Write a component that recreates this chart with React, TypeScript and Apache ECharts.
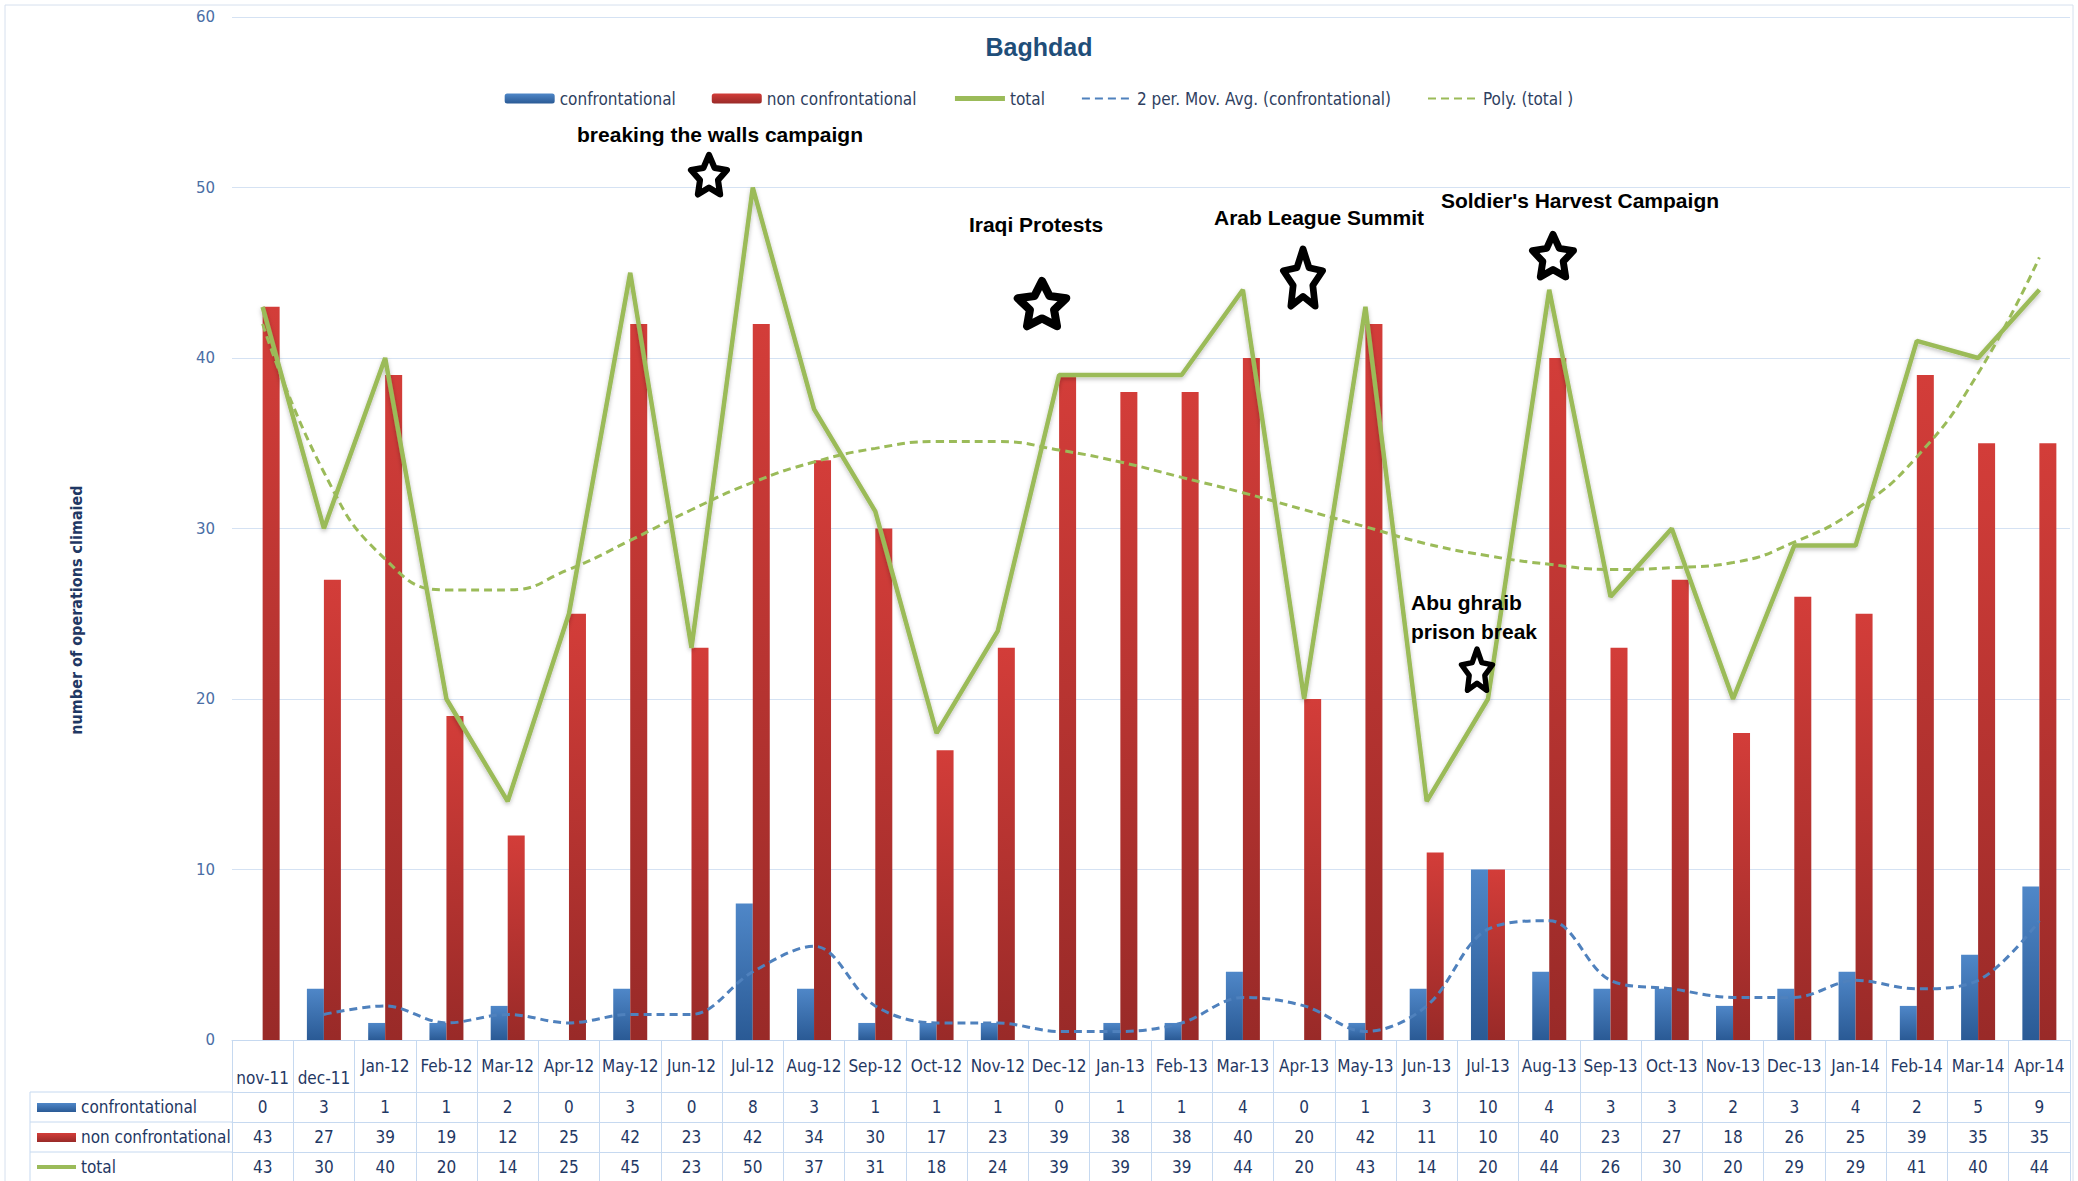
import React, { useEffect, useRef } from "react";
import * as echarts from "echarts";

const categories = [
  "nov-11", "dec-11", "Jan-12", "Feb-12", "Mar-12", "Apr-12", "May-12", "Jun-12", "Jul-12", "Aug-12",
  "Sep-12", "Oct-12", "Nov-12", "Dec-12", "Jan-13", "Feb-13", "Mar-13", "Apr-13", "May-13", "Jun-13",
  "Jul-13", "Aug-13", "Sep-13", "Oct-13", "Nov-13", "Dec-13", "Jan-14", "Feb-14", "Mar-14", "Apr-14",
];
const confrontational = [0, 3, 1, 1, 2, 0, 3, 0, 8, 3, 1, 1, 1, 0, 1, 1, 4, 0, 1, 3, 10, 4, 3, 3, 2, 3, 4, 2, 5, 9];
const nonConfrontational = [43, 27, 39, 19, 12, 25, 42, 23, 42, 34, 30, 17, 23, 39, 38, 38, 40, 20, 42, 11, 10, 40, 23, 27, 18, 26, 25, 39, 35, 35];
const total = [43, 30, 40, 20, 14, 25, 45, 23, 50, 37, 31, 18, 24, 39, 39, 39, 44, 20, 43, 14, 20, 44, 26, 30, 20, 29, 29, 41, 40, 44];
const movAvgConfrontational = [null, 1.5, 2, 1, 1.5, 1, 1.5, 1.5, 4, 5.5, 2, 1, 1, 0.5, 0.5, 1, 2.5, 2, 0.5, 2, 6.5, 7, 3.5, 3, 2.5, 2.5, 3.5, 3, 3.5, 7];
const polyTotal = [42, 33.3, 28.2, 26.4, 26.4, 27.6, 29.3, 31.1, 32.7, 33.9, 34.7, 35.1, 35.1, 34.6, 33.9, 33.0, 32.1, 31.1, 30.1, 29.1, 28.4, 27.9, 27.6, 27.7, 28.0, 29.2, 31.1, 34.2, 39.1, 45.9];
const yTicks = { min: 0, max: 60, interval: 10 };

const seriesNames = {
  conf: "confrontational",
  non: "non confrontational",
  total: "total",
  ma: "2 per. Mov. Avg. (confrontational)",
  poly: "Poly. (total )",
};
const chartTitle = "Baghdad";
const yTitle = "number of operations climaied";

const annotations = [
  { text: "breaking the walls campaign", x: 720, y: 134 },
  { text: "Iraqi Protests", x: 1036, y: 224 },
  { text: "Arab League Summit", x: 1319, y: 217 },
  { text: "Soldier's Harvest Campaign", x: 1580, y: 200 },
];
const stars = [
  { cx: 709, cy: 175, w: 44, h: 50 },
  { cx: 1042, cy: 304, w: 59, h: 58 },
  { cx: 1303, cy: 278, w: 48, h: 70 },
  { cx: 1553, cy: 256, w: 50, h: 54 },
  { cx: 1477, cy: 670, w: 38, h: 51 },
];

const NARROW = '"Liberation Sans Narrow", "DejaVu Sans Condensed", "Arial Narrow", sans-serif';
const TABLE_LINE = "#c6d9f0";
const TABLE_TEXT = "#1f3864";

function starPoints(cx: number, cy: number, w: number, h: number, lw: number) {
  const pts: number[][] = [];
  const rx = w / 2 - lw / 2;
  const ry = h / 2 - lw / 2;
  for (let k = 0; k < 10; k++) {
    const a = -Math.PI / 2 + (k * Math.PI) / 5;
    const f = k % 2 === 0 ? 1 : 0.5;
    pts.push([cx + Math.cos(a) * rx * f, cy + Math.sin(a) * ry * f + ry * 0.08]);
  }
  return pts;
}

export default function App() {
  const ref = useRef<HTMLDivElement>(null);
  useEffect(() => {
    if (!ref.current) return;
    const chart = echarts.init(ref.current, null, { renderer: "svg" });
    const blueGrad = new echarts.graphic.LinearGradient(0, 0, 0, 1, [
      { offset: 0, color: "#4f87c8" },
      { offset: 1, color: "#2a5a95" },
    ]);
    const redGrad = new echarts.graphic.LinearGradient(0, 0, 0, 1, [
      { offset: 0, color: "#d33d39" },
      { offset: 1, color: "#992a28" },
    ]);
    const lowered = new Set([0, 1]);
    const headerData = categories.map((c, i) =>
      lowered.has(i) ? { value: c, textStyle: { padding: [12, 0, 0, 0] } } : c
    );
    const rowAxis = (offset: number, values: number[]) => ({
      type: "category",
      gridIndex: 0,
      position: "bottom",
      offset,
      data: categories,
      boundaryGap: true,
      axisLine: { show: true, lineStyle: { color: TABLE_LINE, width: 1 } },
      axisTick: { show: false },
      splitLine: { show: false },
      axisLabel: {
        interval: 0,
        margin: 6,
        fontSize: 17,
        fontFamily: NARROW,
        color: TABLE_TEXT,
        formatter: (_v: string, idx: number) => String(values[idx]),
      },
    });
    const textBase = {
      fontFamily: NARROW,
      fontSize: 17,
      fill: TABLE_TEXT,
      verticalAlign: "middle",
      align: "left",
    };
    const graphics: any[] = [
      {
        type: "rect",
        shape: { x: 5, y: 5, width: 2068, height: 1190 },
        style: { fill: "none", stroke: "#d6e0ee", lineWidth: 1 },
        silent: true,
      },
      {
        type: "text",
        x: 76,
        y: 610,
        rotation: Math.PI / 2,
        style: {
          text: yTitle,
          fontFamily: NARROW,
          fontSize: 16,
          fontWeight: "bold",
          fill: "#1f3864",
          align: "center",
          verticalAlign: "middle",
        },
      },
      { type: "line", shape: { x1: 30, y1: 1092, x2: 232, y2: 1092 }, style: { stroke: TABLE_LINE, lineWidth: 1 } },
      { type: "line", shape: { x1: 30, y1: 1122, x2: 232, y2: 1122 }, style: { stroke: TABLE_LINE, lineWidth: 1 } },
      { type: "line", shape: { x1: 30, y1: 1152, x2: 232, y2: 1152 }, style: { stroke: TABLE_LINE, lineWidth: 1 } },
      { type: "line", shape: { x1: 30, y1: 1092, x2: 30, y2: 1181 }, style: { stroke: TABLE_LINE, lineWidth: 1 } },
      { type: "rect", shape: { x: 37, y: 1103, width: 39, height: 9 }, style: { fill: blueGrad } },
      { type: "rect", shape: { x: 37, y: 1133, width: 39, height: 9 }, style: { fill: redGrad } },
      { type: "rect", shape: { x: 37, y: 1165, width: 39, height: 4 }, style: { fill: "#9bbb59" } },
      { type: "text", x: 81, y: 1107, style: { ...textBase, text: seriesNames.conf } },
      { type: "text", x: 81, y: 1137, style: { ...textBase, text: seriesNames.non } },
      { type: "text", x: 81, y: 1167, style: { ...textBase, text: seriesNames.total } },
    ];
    annotations.forEach((a) =>
      graphics.push({
        type: "text",
        x: a.x,
        y: a.y,
        z: 100,
        style: {
          text: a.text,
          fontFamily: '"Liberation Sans", Arial, sans-serif',
          fontSize: 21,
          fontWeight: "bold",
          fill: "#000",
          align: "center",
          verticalAlign: "middle",
        },
      })
    );
    graphics.push({
      type: "text",
      x: 1411,
      y: 617,
      z: 100,
      style: {
        text: "Abu ghraib\nprison break",
        fontFamily: '"Liberation Sans", Arial, sans-serif',
        fontSize: 21,
        fontWeight: "bold",
        lineHeight: 29,
        fill: "#000",
        align: "left",
        verticalAlign: "middle",
      },
    });
    stars.forEach((s) => {
      const lw = Math.min(s.w, s.h) * 0.14;
      graphics.push({
        type: "polygon",
        z: 100,
        shape: { points: starPoints(s.cx, s.cy, s.w, s.h, lw) },
        style: { fill: "#fff", stroke: "#000", lineWidth: lw, lineJoin: "round" },
      });
    });

    const noSymbol = { opacity: 0 };

    chart.setOption({
      animation: false,
      backgroundColor: "#ffffff",
      title: {
        text: chartTitle,
        left: "center",
        top: 29,
        textStyle: {
          fontFamily: '"Liberation Sans", Arial, sans-serif',
          fontSize: 25,
          fontWeight: "bold",
          color: "#1f4e79",
        },
      },
      legend: {
        top: 85,
        left: "center",
        itemWidth: 50,
        itemHeight: 10,
        itemGap: 36,
        textStyle: { fontFamily: NARROW, fontSize: 17, color: "#2f3f5f" },
        data: [
          { name: seriesNames.conf },
          { name: seriesNames.non },
          { name: seriesNames.total, itemStyle: noSymbol, lineStyle: { width: 5 } },
          { name: seriesNames.ma, itemStyle: noSymbol },
          { name: seriesNames.poly, itemStyle: noSymbol },
        ],
      },
      grid: { left: 232, right: 8, top: 17, bottom: 141, containLabel: false },
      xAxis: [
        {
          type: "category",
          data: headerData,
          boundaryGap: true,
          axisLine: { show: true, lineStyle: { color: TABLE_LINE, width: 1 } },
          axisTick: { show: true, interval: 0, length: 141, lineStyle: { color: TABLE_LINE, width: 1 } },
          axisLabel: {
            interval: 0,
            margin: 17,
            fontSize: 17,
            fontFamily: NARROW,
            color: TABLE_TEXT,
          },
          splitLine: { show: false },
        },
        rowAxis(52, confrontational),
        rowAxis(82, nonConfrontational),
        rowAxis(112, total),
      ],
      yAxis: {
        type: "value",
        min: yTicks.min,
        max: yTicks.max,
        interval: yTicks.interval,
        axisLine: { show: false },
        axisTick: { show: false },
        axisLabel: { margin: 17, fontFamily: '"DejaVu Sans", Verdana, sans-serif', fontSize: 15, color: "#4a6ea5" },
        splitLine: { lineStyle: { color: "#d5e2f3", width: 1 } },
      },
      series: [
        {
          name: seriesNames.conf,
          type: "bar",
          data: confrontational,
          barWidth: 17,
          barGap: "0%",
          itemStyle: { color: blueGrad },
        },
        {
          name: seriesNames.non,
          type: "bar",
          data: nonConfrontational,
          barWidth: 17,
          barGap: "0%",
          itemStyle: { color: redGrad },
        },
        {
          name: seriesNames.total,
          type: "line",
          data: total,
          symbol: "none",
          z: 4,
          itemStyle: { color: "#9bbb59" },
          lineStyle: {
            color: "#9bbb59",
            width: 4.5,
            shadowColor: "rgba(0,0,0,0.25)",
            shadowBlur: 4,
            shadowOffsetY: 2,
          },
        },
        {
          name: seriesNames.ma,
          type: "line",
          data: movAvgConfrontational,
          symbol: "none",
          smooth: 0.35,
          z: 5,
          itemStyle: { color: "#4f81bd" },
          lineStyle: { color: "#4f81bd", width: 3, type: [8, 5] },
        },
        {
          name: seriesNames.poly,
          type: "line",
          data: polyTotal,
          symbol: "none",
          smooth: true,
          z: 5,
          itemStyle: { color: "#9bbb59" },
          lineStyle: { color: "#9bbb59", width: 3, type: [8, 5] },
        },
      ],
      graphic: { elements: graphics },
    });
    return () => chart.dispose();
  }, []);
  return (
    <div
      ref={ref}
      style={{ position: "absolute", left: 0, top: 0, width: 2078, height: 1181, background: "#fff" }}
    />
  );
}
